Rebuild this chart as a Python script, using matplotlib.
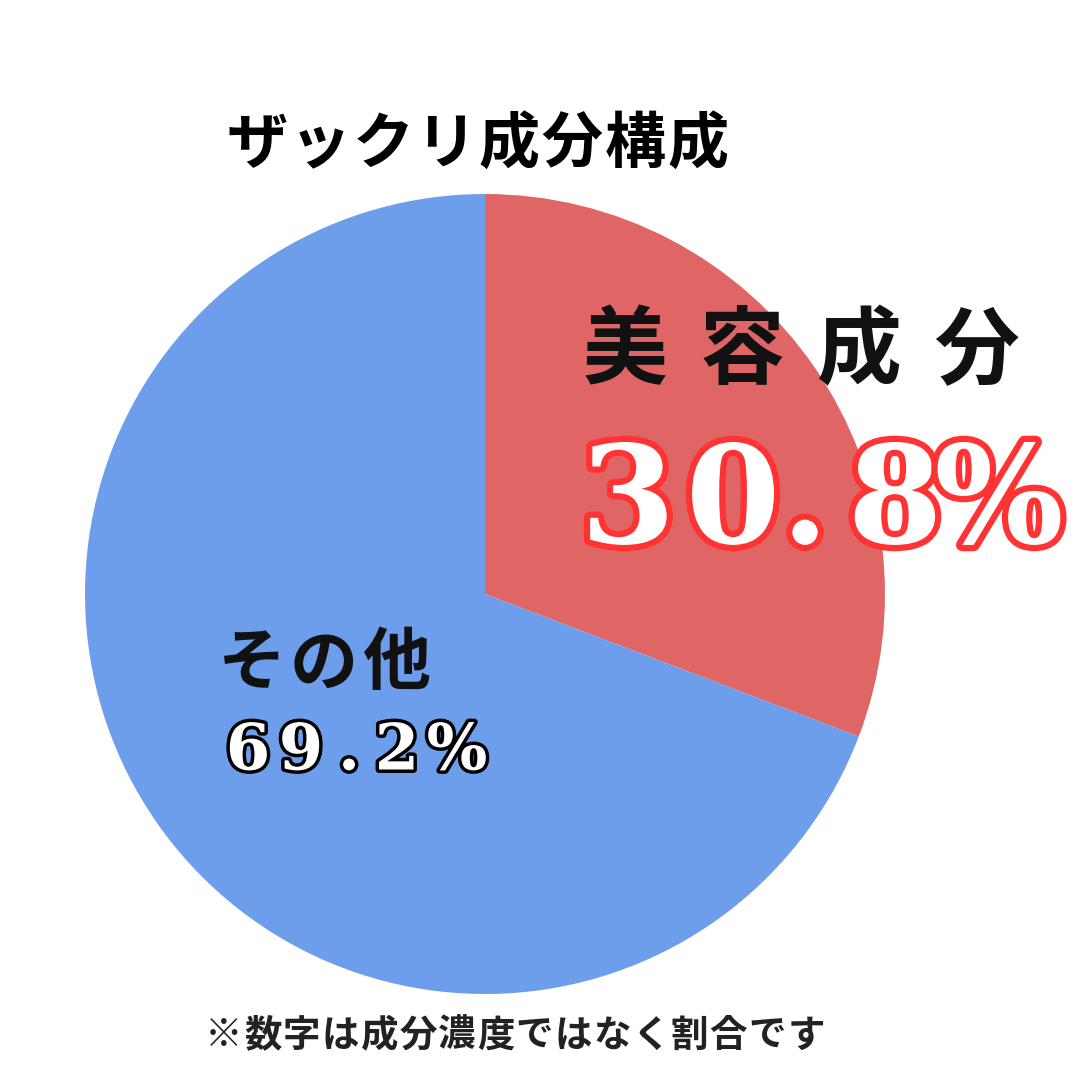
import matplotlib
matplotlib.use("Agg")
import matplotlib.pyplot as plt
import matplotlib.patheffects as pe

plt.rcParams['font.family'] = ['Noto Sans CJK JP', 'DejaVu Sans']

title = "ザックリ成分構成"
categories = ["美容成分", "その他"]
values = [30.8, 69.2]
value_labels = ["30.8%", "69.2%"]
colors = ["#E06666", "#6D9EEB"]
footnote = "※数字は成分濃度ではなく割合です"

W = H = 1080
fig = plt.figure(figsize=(10.8, 10.8), dpi=100)
fig.patch.set_facecolor("white")

cx, cy, r = 485, 594, 400
ax = fig.add_axes([(cx - r) / W, (H - cy - r) / H, 2 * r / W, 2 * r / H])
ax.pie(values, colors=colors, startangle=90, counterclock=False, radius=1.0,
       wedgeprops=dict(linewidth=0))
ax.set_xlim(-1, 1)
ax.set_ylim(-1, 1)
ax.set_aspect("equal")
ax.axis("off")


def fx(x):
    return x / W


def fy(y):
    return 1 - y / H


def spaced(text, x0, step, y, widths=None, **kw):
    """Draw text char by char; x0 is the center of the first char (px)."""
    x = x0
    for i, ch in enumerate(text):
        fig.text(fx(x), fy(y), ch, ha="center", va="center", **kw)
        if widths is not None and i < len(widths):
            x += widths[i]
        else:
            x += step


spaced(title, 257, 63, 145, fontsize=44, fontweight="bold", color="black")

spaced(categories[0], 625, 117, 352, fontsize=61, fontweight="bold",
       color="#111111")
spaced(value_labels[0], 628, 0, 505, widths=[105, 72, 90, 104],
       fontsize=98, fontweight="bold", family="DejaVu Serif", color="white",
       path_effects=[pe.withStroke(linewidth=9, foreground="#FF3333")])

spaced(categories[1], 252, 72, 665, fontsize=49, fontweight="bold",
       color="#111111")
spaced(value_labels[1], 248, 0, 752, widths=[53, 48, 48, 60],
       fontsize=46, fontweight="bold", family="DejaVu Serif", color="white",
       path_effects=[pe.withStroke(linewidth=5, foreground="black")])

spaced(footnote, 224, 38.8, 1035, fontsize=27, fontweight="bold",
       color="#222222")

fig.savefig("out.png", dpi=100, facecolor="white")
